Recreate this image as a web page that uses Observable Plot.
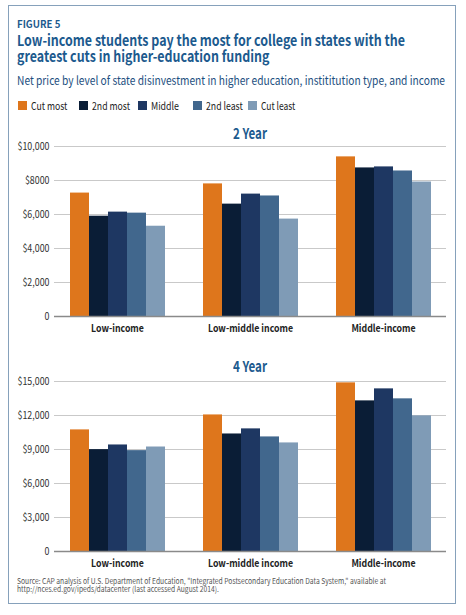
<!DOCTYPE html>
<html><head><meta charset="utf-8">
<script src="https://cdn.jsdelivr.net/npm/d3@7"></script>
<script src="https://cdn.jsdelivr.net/npm/@observablehq/plot@0.6"></script>
<style>
body{margin:0;background:#fff;}
#wrap{position:relative;width:466px;height:615px;font-family:"Noto Sans CJK SC","Lato",sans-serif;overflow:hidden;}
.box{position:absolute;left:8px;top:5px;width:446px;height:597px;border:1.5px solid #86a1bb;}
.abs{position:absolute;white-space:nowrap;}
#fig{left:17px;top:19px;font-size:10.5px;line-height:10.5px;font-weight:bold;color:#1c5a8e;}
.tl{left:17px;font-size:15px;line-height:15px;font-weight:bold;color:#1c5a8e;}
#t1{top:32px;}
#t2{top:48.4px;}
#sub{left:17px;top:74px;font-size:12px;line-height:12px;color:#1d4f80;}
#legend{left:18px;top:99.5px;font-size:11px;line-height:11px;color:#222;}
.lg{position:absolute;display:flex;align-items:center;}
.lg span.sw{display:inline-block;width:9px;height:9px;margin-right:4px;}
.lg span.tx{display:inline-block;transform-origin:left center;}
.ct{font-size:15px;line-height:15px;font-weight:bold;color:#1c5a8e;left:0;width:500px;text-align:center;}
.ct span{display:inline-block;transform-origin:center center;}
#c1t{top:124.5px;}
#c2t{top:358px;}
.chart{position:absolute;left:0;width:466px;height:200px;}
.chart svg{position:absolute;left:0;top:0;}
#c1{top:138px;}
#c2{top:373px;}
.src{left:17px;font-size:8px;line-height:8px;color:#555;}
#s1{top:576.5px;}
#s2{top:585.1px;}
svg g[aria-label="fx-axis tick label"] text{font-weight:bold;font-size:10.5px;fill:#222;}
svg g[aria-label="y-axis tick label"] text{font-size:10.5px;fill:#333;}
</style>
</head><body>
<div id="wrap">
<div class="box"></div>
<div id="fig" class="abs">FIGURE 5</div>
<div id="t1" class="abs tl">Low-income students pay the most for college in states with the</div>
<div id="t2" class="abs tl">greatest cuts in higher-education funding</div>
<div id="sub" class="abs">Net price by level of state disinvestment in higher education, instititution type, and income</div>
<div id="legend" class="abs"></div>
<div id="c1t" class="abs ct"><span>2 Year</span></div>
<div id="c1" class="chart"></div>
<div id="c2t" class="abs ct"><span>4 Year</span></div>
<div id="c2" class="chart"></div>
<div id="s1" class="abs src">Source: CAP analysis of U.S. Department of Education, "Integrated Postsecondary Education Data System," available at</div>
<div id="s2" class="abs src">http://nces.ed.gov/ipeds/datacenter (last accessed August 2014).</div>
</div>
<script>
const incomes = ["Low-income", "Low-middle income", "Middle-income"];
const series = ["Cut most", "2nd most", "Middle", "2nd least", "Cut least"];
const colors = ["#de761c", "#0a1d36", "#1e3762", "#41678d", "#7f9bb6"];
const twoYearLow = [7260, 5900, 6140, 6080, 5310];
const twoYearLowMiddle = [7800, 6610, 7200, 7090, 5730];
const twoYearMiddle = [9390, 8740, 8800, 8560, 7910];
const fourYearLow = [10730, 8990, 9400, 8900, 9220];
const fourYearLowMiddle = [12050, 10370, 10820, 10110, 9580];
const fourYearMiddle = [14880, 13290, 14350, 13470, 11970];
const twoYearTicks = [0, 2000, 4000, 6000, 8000, 10000];
const twoYearTickLabels = ["0", "$2,000", "$4,000", "$6,000", "$8000", "$10,000"];
const fourYearTicks = [0, 3000, 6000, 9000, 12000, 15000];
const fourYearTickLabels = ["0", "$3,000", "$6,000", "$9,000", "$12,000", "$15,000"];

// layout helpers
function fitX(el, target, origin) {
  const w = el.getBoundingClientRect().width;
  const k = target / w;
  el.style.transformOrigin = origin || "left center";
  el.style.transform = `scaleX(${k})`;
  return k;
}

const legendX = [18, 79, 138, 193, 248];
const legendW = [36.3, 38, 28, 36.7, 34.3];
const legend = document.getElementById("legend");
series.forEach((s, i) => {
  const it = document.createElement("span");
  it.className = "lg";
  it.style.left = (legendX[i] - 18) + "px";
  it.innerHTML = `<span class="sw" style="background:${colors[i]}"></span><span class="tx">${s}</span>`;
  legend.appendChild(it);
  fitX(it.querySelector(".tx"), legendW[i]);
});

fitX(document.getElementById("fig"), 43.4);
const kt = fitX(document.getElementById("t1"), 388);
const t2 = document.getElementById("t2");
t2.style.transformOrigin = "left center";
t2.style.transform = `scaleX(${kt})`;
fitX(document.getElementById("sub"), 428);
const ks = fitX(document.getElementById("s1"), 369);
const s2 = document.getElementById("s2");
s2.style.transformOrigin = "left center";
s2.style.transform = `scaleX(${ks})`;
document.querySelectorAll(".ct span").forEach(s => fitX(s, 34, "center center"));

const FONT = '"Noto Sans CJK SC","Lato",sans-serif';
const common = {width: 466, height: 200, marginLeft: 54, marginRight: 20, marginTop: 8, marginBottom: 22};

function squeeze(svg, selector, k) {
  svg.querySelectorAll(selector).forEach(t => {
    const w = t.getComputedTextLength();
    t.setAttribute("textLength", (w * k).toFixed(2));
    t.setAttribute("lengthAdjust", "spacingAndGlyphs");
  });
}

function chart(el, rows, ticks, labels) {
  const data = incomes.flatMap((inc, i) => series.map((s, j) => ({income: inc, series: s, value: rows[i][j]})));
  const yDomain = [0, ticks[ticks.length - 1]];
  const style = {fontFamily: FONT, fontSize: "10.5px", background: "transparent", overflow: "visible"};
  const grid = Plot.plot({
    ...common, style,
    y: {domain: yDomain, ticks: ticks, tickFormat: d => labels[ticks.indexOf(d)], tickSize: 0, tickPadding: 5, label: null},
    marks: [Plot.ruleY(ticks.filter(t => t > 0), {stroke: "#c9c9c9", strokeWidth: 1})]
  });
  const bars = Plot.plot({
    ...common, style,
    fx: {domain: incomes, paddingInner: 0.28, paddingOuter: 0.11, label: null, axis: "bottom", tickSize: 0, tickPadding: 8},
    x: {domain: series, padding: 0, axis: null},
    y: {domain: yDomain, axis: null},
    color: {domain: series, range: colors},
    marks: [Plot.barY(data, {fx: "income", x: "series", y: "value", fill: "series"})]
  });
  const base = Plot.plot({
    ...common, style,
    y: {domain: yDomain, axis: null},
    marks: [Plot.ruleY([0], {stroke: "#8a8a8a", strokeWidth: 1.5})]
  });
  el.appendChild(grid); el.appendChild(bars); el.appendChild(base);
  // narrow the axis text to the reference's condensed face
  const fxTexts = bars.querySelectorAll('g[aria-label="fx-axis tick label"] text');
  const ref = [...fxTexts].find(t => t.textContent === "Low-middle income");
  const kx = ref ? 85 / ref.getComputedTextLength() : 0.85;
  squeeze(bars, 'g[aria-label="fx-axis tick label"] text', kx);
  const yTexts = grid.querySelectorAll('g[aria-label="y-axis tick label"] text');
  const widest = [...yTexts].reduce((a, t) => Math.max(a, t.getComputedTextLength()), 0);
  const ky = 32 / widest;
  squeeze(grid, 'g[aria-label="y-axis tick label"] text', ky);
}
chart(document.getElementById("c1"), [twoYearLow, twoYearLowMiddle, twoYearMiddle], twoYearTicks, twoYearTickLabels);
chart(document.getElementById("c2"), [fourYearLow, fourYearLowMiddle, fourYearMiddle], fourYearTicks, fourYearTickLabels);
</script>
</body></html>
